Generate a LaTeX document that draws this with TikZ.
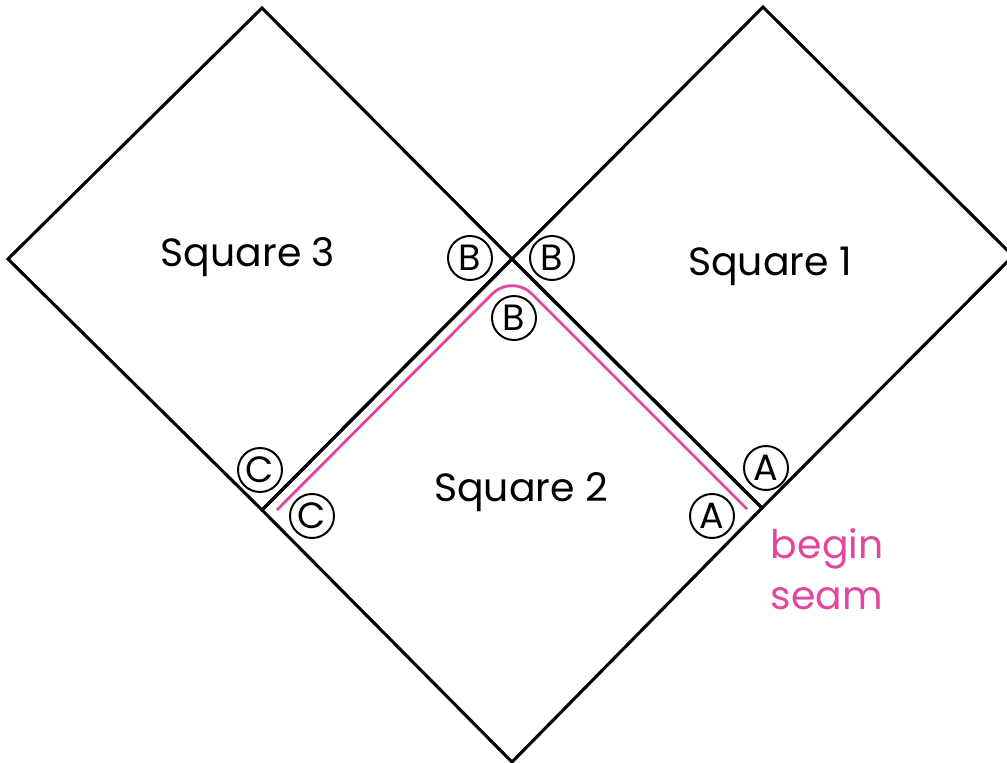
\documentclass[tikz,border=0pt]{standalone}
\usepackage{fontspec}
\setmainfont{Poppins}
\usetikzlibrary{positioning}

\definecolor{seampink}{HTML}{E0479E}

\begin{document}
\begin{tikzpicture}[
    x=0.025cm, y=-0.025cm,
    edge/.style={
        draw,
        line width=2.2pt,
        line join=miter
    },
    seam/.style={
        draw=seampink,
        line width=2pt,
        rounded corners=20
    },
    tag/.style={
        draw,
        circle,
        line width=1.4pt,
        minimum size=1.1cm,
        inner sep=0pt,
        font=\fontsize{26}{28}\selectfont
    },
    title/.style={
        font=\fontsize{28}{36}\selectfont
    }
]

\useasboundingbox (0,0) rectangle (1007,763);

% corners of the three squares
\coordinate (top3) at (262,8);
\coordinate (left3) at (8,259);
\coordinate (mid) at (512,259);
\coordinate (cornerC) at (262,510);
\coordinate (top1) at (763,7);
\coordinate (right1) at (1013,256);
\coordinate (cornerA) at (762,508);
\coordinate (bottom2) at (512,762);

\draw[edge] (top3) -- (mid) -- (cornerC) -- (left3) -- cycle;
\draw[edge] (top1) -- (right1) -- (cornerA) -- (mid) -- cycle;
\draw[edge] (mid) -- (cornerA) -- (bottom2) -- (cornerC) -- cycle;

% seam line
\coordinate (seamstart) at (747,509);
\coordinate (seamtop) at (512,274);
\coordinate (seamend) at (277,510);
\draw[seam] (seamstart) -- (seamtop) -- (seamend);

\node[title] (sq3) at (248,257) {Square 3};
\node[title] (sq1) at (770,266) {Square 1};
\node[title] (sq2) at (521,492) {Square 2};

\node[tag] (b3) at (470,258) {B};
\node[tag] (b1) at (552,258) {B};
\node[tag] (b2) at (514,318) {B};
\node[tag] (c3) at (260,470) {C};
\node[tag] (c2) at (312,516) {C};
\node[tag] (a1) at (766,468) {A};
\node[tag] (a2) at (712,516) {A};

\node[title, text=seampink, align=left, anchor=north west] (begin)
    at (766,524) {begin\\seam};

\end{tikzpicture}
\end{document}
